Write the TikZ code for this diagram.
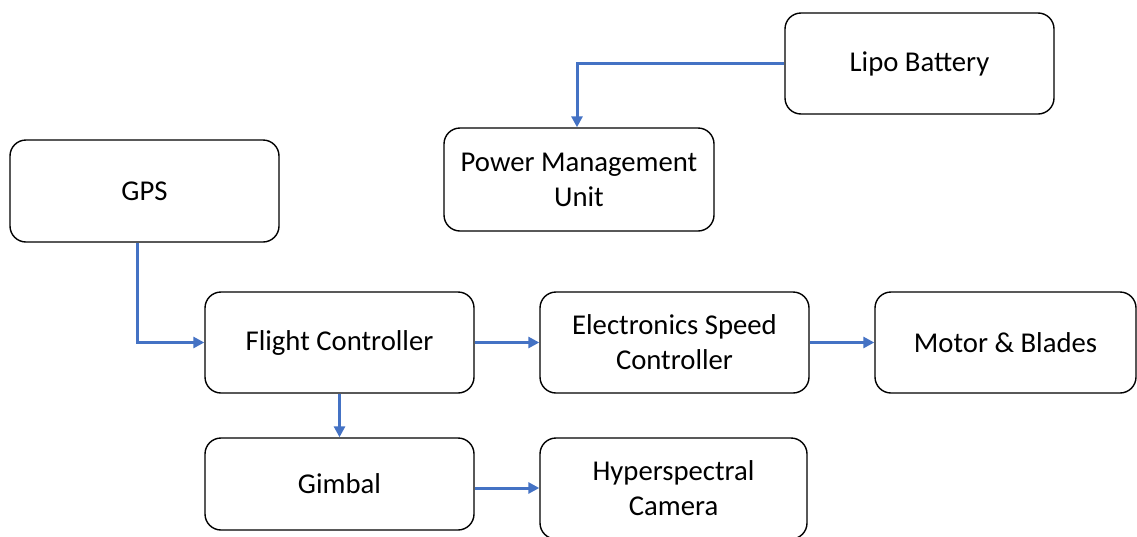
\documentclass[tikz,border=0pt]{standalone}
\usepackage{fontspec}
\setmainfont{Carlito}
\usetikzlibrary{arrows.meta}
\definecolor{arrowblue}{HTML}{4472C4}
\tikzset{
  blk/.style={draw=black, line width=1.4pt, rounded corners=16pt, fill=white,
    align=center, inner sep=0pt, font=\fontsize{28.7}{35}\selectfont},
  conn/.style={draw=arrowblue, line width=3pt, -{Triangle[length=11pt,width=11pt]}}
}
\begin{document}
\begin{tikzpicture}[x=1pt,y=-1pt]
\useasboundingbox (0,0) rectangle (1137,536);
\node[blk, minimum width=269pt, minimum height=101pt] (lipo) at (919.5,63.5) {Lipo Battery};
\node[blk, minimum width=270pt, minimum height=103pt] (pmu) at (579,179.5) {Power Management\\Unit};
\node[blk, minimum width=269pt, minimum height=102pt] (gps) at (144.5,191) {GPS};
\node[blk, minimum width=269pt, minimum height=101pt] (fc) at (339.5,342.5) {Flight Controller};
\node[blk, minimum width=269pt, minimum height=101pt] (esc) at (674.5,342.5) {Electronics Speed\\Controller};
\node[blk, minimum width=261pt, minimum height=101pt] (motor) at (1005.5,342.5) {Motor \& Blades};
\node[blk, minimum width=269pt, minimum height=92pt] (gimbal) at (339.5,484) {Gimbal};
\node[blk, minimum width=267pt, minimum height=101pt] (cam) at (673.5,488.5) {Hyperspectral\\Camera};
\draw[conn] (lipo.west) -| ([xshift=-2pt]pmu.north);
\draw[conn] ([xshift=-7.5pt]gps.south) |- (fc.west);
\draw[conn] (fc.east) -- (esc.west);
\draw[conn] (esc.east) -- (motor.west);
\draw[conn] (fc.south) -- (gimbal.north);
\draw[conn] ([yshift=-4pt]gimbal.east) -- ([yshift=-4pt]gimbal.east -| cam.west);
\end{tikzpicture}
\end{document}
